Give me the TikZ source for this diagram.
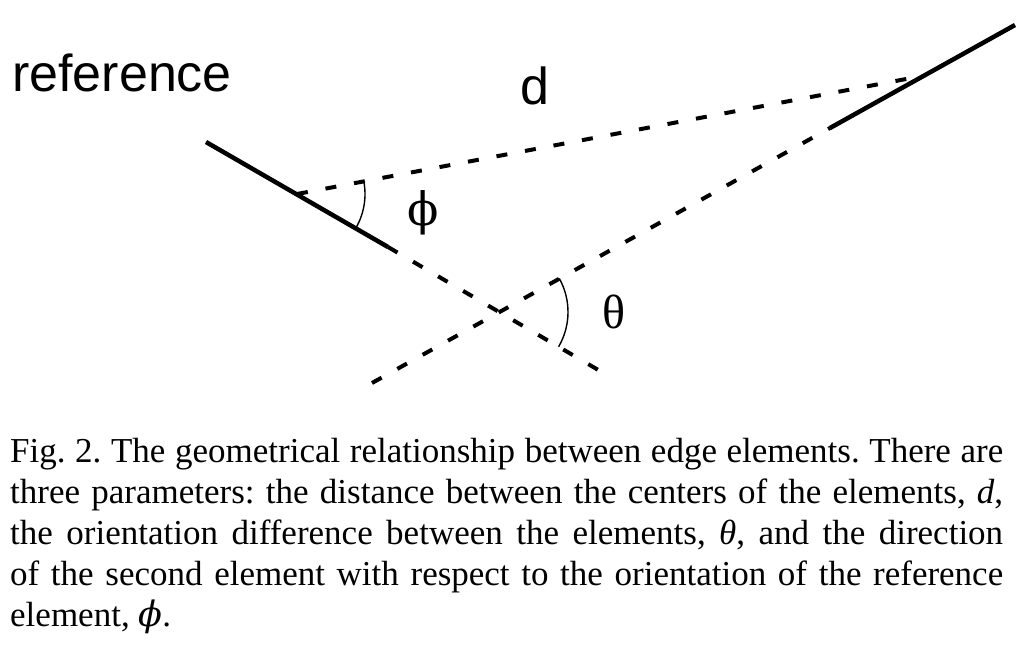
\documentclass[tikz,border=0pt]{standalone}
\usepackage{fontspec}
\setmainfont{Liberation Serif}
\newfontfamily\helv{Liberation Sans}
\newfontfamily\grk{DejaVu Serif}
\usetikzlibrary{calc}
\begin{document}
\begin{tikzpicture}[x=1pt,y=-1pt,
  element/.style={line width=4.5pt},
  extline/.style={line width=4pt,dash pattern=on 11pt off 18pt},
  anglearc/.style={line width=1.4pt},
  lbl/.style={inner sep=0pt,font=\helv\fontsize{52}{60}\selectfont},
  greek/.style={inner sep=0pt,font=\fontsize{48}{56}\selectfont}]
\useasboundingbox (0,0) rectangle (1024,648);
% reference element
\coordinate (A) at (206,142);
\coordinate (B) at (388,247);
\coordinate (C1) at (297,194);
\coordinate (E1) at (612,378);
% second element
\coordinate (F) at (1015,25);
\coordinate (G) at (830,128);
\coordinate (C2) at (922,76);
\coordinate (E2) at (372,383);
\coordinate (X) at (499,312);
\draw[element] (A) -- (B);
\draw[element] (F) -- (G);
\draw[extline] (B) -- (E1);
\draw[extline] (E2) -- (G);
\draw[extline] (C1) -- (C2);
% angle arcs (canvas angles)
\draw[anglearc] ($(C1)+(10.8:68pt)$) arc[start angle=10.8,end angle=-30.2,radius=68pt];
\draw[anglearc] ($(X)+(29.1:69pt)$) arc[start angle=29.1,end angle=-30.2,radius=69pt];
% labels
\node[lbl,anchor=base west] (ref) at (12,91) {reference};
\node[lbl,anchor=base west] (dl) at (520,104) {d};
\node[greek,font=\grk\fontsize{46}{56}\selectfont] (phi) at (423,213) {ϕ};
\node[greek] (theta) at (614,312) {θ};
% caption
\node[inner sep=0pt,anchor=base west,text width=993pt,align=justify,
  font=\fontsize{35}{41}\selectfont\frenchspacing] (cap) at (10,462)
{Fig. 2. The geometrical relationship between edge elements. There are\linebreak
three parameters: the distance between the centers of the elements, \textit{d},\linebreak
the orientation difference between the elements, \textit{θ}, and the direction\linebreak
of the second element with respect to the orientation of the reference\linebreak
element, {\grk\itshape ϕ}.};
\end{tikzpicture}
\end{document}
